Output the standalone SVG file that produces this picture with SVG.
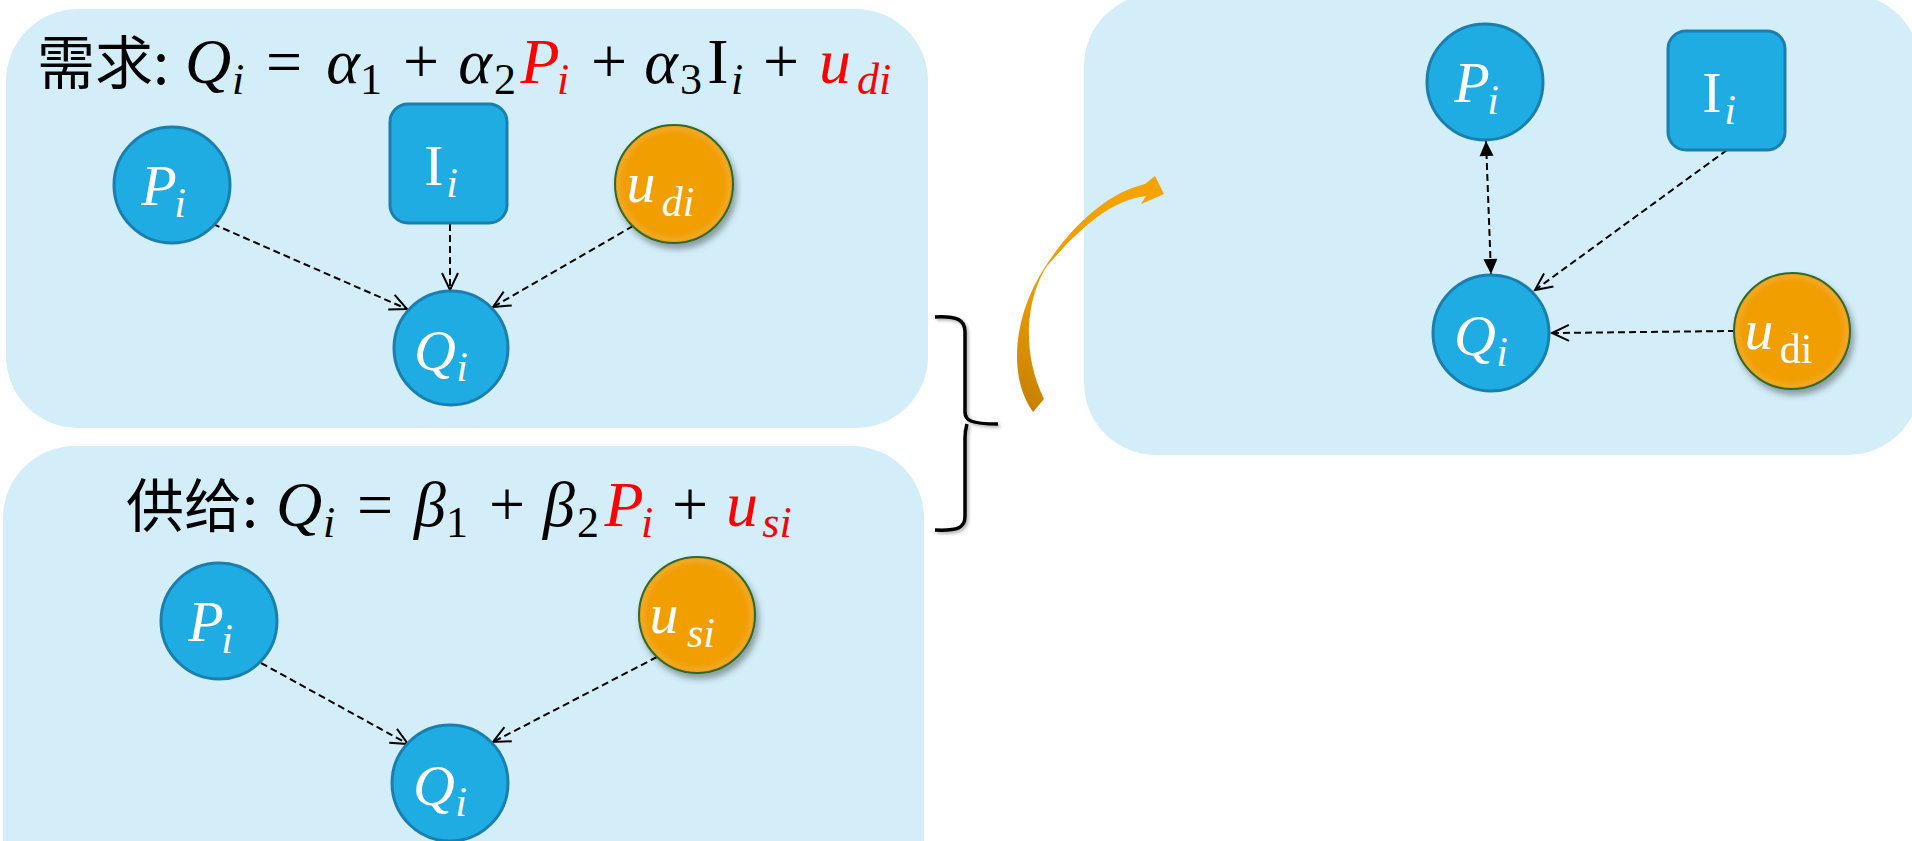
<svg xmlns="http://www.w3.org/2000/svg" width="1912" height="841" viewBox="0 0 1912 841">
<style>
.panel{fill:#D3EEF9}
.blue{fill:#1EACE2;stroke:#1A7FAE;stroke-width:3}
.orange{fill:url(#og);stroke:#2E6A2A;stroke-width:2;filter:url(#sh)}
.lbl{font-family:"Liberation Serif","DejaVu Serif",serif;font-style:italic;fill:#FFFFFF;font-size:58px;text-anchor:middle}
.lsub{font-family:"Liberation Serif","DejaVu Serif",serif;font-style:italic;fill:#FFFFFF;font-size:42px;text-anchor:middle}
.up{font-style:normal}
.m{font-family:"Liberation Serif","DejaVu Serif",serif;font-style:italic;font-size:64px;fill:#000;text-anchor:middle}
.ms{font-family:"Liberation Serif","DejaVu Serif",serif;font-style:italic;font-size:44px;fill:#000;text-anchor:middle}
.op{font-family:"Liberation Serif","DejaVu Serif",serif;font-style:normal;font-size:64px;fill:#000;text-anchor:middle}
.num{font-style:normal}
.red{fill:#FF0000}
.cn{font-family:"Noto Sans CJK SC","Noto Sans",sans-serif;font-size:58px;fill:#000}
.dash{fill:none;stroke:#000;stroke-width:2;stroke-dasharray:7 4}
</style>
<defs>
<marker id="open" markerUnits="userSpaceOnUse" viewBox="-20 -12 24 24" refX="0" refY="0" markerWidth="24" markerHeight="24" orient="auto">
<path d="M-17,-8 L0,0 L-17,8" fill="none" stroke="#000" stroke-width="2"/>
</marker>
<marker id="fillEnd" markerUnits="userSpaceOnUse" viewBox="-16 -9 18 18" refX="0" refY="0" markerWidth="18" markerHeight="18" orient="auto">
<path d="M-15,-7 L0,0 L-15,7 Z" fill="#000"/>
</marker>
<marker id="fillStart" markerUnits="userSpaceOnUse" viewBox="-2 -9 18 18" refX="0" refY="0" markerWidth="18" markerHeight="18" orient="auto">
<path d="M15,-7 L0,0 L15,7 Z" fill="#000"/>
</marker>
<radialGradient id="og" cx="0.5" cy="0.5" r="0.5">
<stop offset="0.85" stop-color="#F09E05"/>
<stop offset="0.95" stop-color="#F3A823"/>
<stop offset="1" stop-color="#EE9A04"/>
</radialGradient>
<linearGradient id="arrowg" x1="0" y1="1" x2="0.3" y2="0">
<stop offset="0" stop-color="#C47E00"/>
<stop offset="0.45" stop-color="#E79A05"/>
<stop offset="1" stop-color="#F5A300"/>
</linearGradient>
<filter id="sh" x="-30%" y="-30%" width="160%" height="160%">
<feDropShadow dx="3" dy="5" stdDeviation="3" flood-color="#000" flood-opacity="0.35"/>
</filter>
<filter id="bsh" x="-30%" y="-10%" width="160%" height="120%">
<feDropShadow dx="2" dy="2" stdDeviation="1.5" flood-color="#000" flood-opacity="0.3"/>
</filter>
</defs>

<g id="panels">
<rect class="panel" x="6" y="9" width="922" height="419" rx="72"/>
<rect class="panel" x="3" y="446" width="921" height="470" rx="72"/>
<rect class="panel" x="1084" y="-6" width="836" height="461" rx="72"/>
</g>

<g id="title-demand">
<text class="cn" x="37" y="84">需求:</text>
<text class="m" x="208" y="83">Q</text><text class="ms" x="238" y="94">i</text>
<text class="op" x="284" y="83">=</text>
<text class="m" x="343" y="83">α</text><text class="ms num" x="371" y="94">1</text>
<text class="op" x="421" y="83">+</text>
<text class="m" x="475" y="83">α</text><text class="ms num" x="505" y="94">2</text>
<text class="m red" x="540" y="83">P</text><text class="ms red" x="563" y="94">i</text>
<text class="op" x="609" y="83">+</text>
<text class="m" x="661" y="83">α</text><text class="ms num" x="691" y="94">3</text>
<text class="op" x="718" y="83">I</text><text class="ms" x="737" y="94">i</text>
<text class="op" x="781" y="83">+</text>
<text class="m red" x="835" y="83">u</text><text class="ms red" x="874" y="94">di</text>
</g>

<g id="title-supply">
<text class="cn" x="126" y="527">供给:</text>
<text class="m" x="299" y="526">Q</text><text class="ms" x="329" y="537">i</text>
<text class="op" x="375" y="526">=</text>
<text class="m" x="430" y="526">β</text><text class="ms num" x="457" y="537">1</text>
<text class="op" x="507" y="526">+</text>
<text class="m" x="559" y="526">β</text><text class="ms num" x="588" y="537">2</text>
<text class="m red" x="624" y="526">P</text><text class="ms red" x="647" y="537">i</text>
<text class="op" x="690" y="526">+</text>
<text class="m red" x="742" y="526">u</text><text class="ms red" x="777" y="537">si</text>
</g>

<g id="connectors">
<line class="dash" x1="213" y1="224" x2="407" y2="309" marker-end="url(#open)"/>
<line class="dash" x1="450" y1="224" x2="450" y2="290" marker-end="url(#open)"/>
<line class="dash" x1="633" y1="226" x2="493" y2="307" marker-end="url(#open)"/>
<line class="dash" x1="261" y1="663" x2="408" y2="744" marker-end="url(#open)"/>
<line class="dash" x1="657" y1="657" x2="493" y2="742" marker-end="url(#open)"/>
<line class="dash" x1="1486" y1="141" x2="1491" y2="274" marker-start="url(#fillStart)" marker-end="url(#fillEnd)"/>
<line class="dash" x1="1727" y1="150" x2="1535" y2="290" marker-end="url(#open)"/>
<line class="dash" x1="1735" y1="331" x2="1552" y2="333" marker-end="url(#open)"/>
</g>

<g id="d-P">
<circle class="blue" cx="172" cy="185" r="58"/>
<text class="lbl" x="159" y="205">P</text><text class="lsub" x="180" y="217">i</text>
</g>
<g id="d-I">
<rect class="blue" x="390" y="104" width="117" height="119" rx="18"/>
<text class="lbl up" x="434" y="185">I</text><text class="lsub" x="452" y="197">i</text>
</g>
<g id="d-u">
<circle class="orange" cx="674" cy="184" r="59"/>
<text class="lbl" x="641" y="202">u</text><text class="lsub" x="678" y="216">di</text>
</g>
<g id="d-Q">
<circle class="blue" cx="451" cy="348" r="57"/>
<text class="lbl" x="435" y="370">Q</text><text class="lsub" x="462" y="381">i</text>
</g>

<g id="s-P">
<circle class="blue" cx="219" cy="621" r="58"/>
<text class="lbl" x="206" y="641">P</text><text class="lsub" x="227" y="653">i</text>
</g>
<g id="s-u">
<circle class="orange" cx="697" cy="615" r="58"/>
<text class="lbl" x="664" y="633">u</text><text class="lsub" x="701" y="647">si</text>
</g>
<g id="s-Q">
<circle class="blue" cx="450" cy="783" r="58"/>
<text class="lbl" x="434" y="805">Q</text><text class="lsub" x="461" y="816">i</text>
</g>

<g id="r-P">
<circle class="blue" cx="1485" cy="82" r="58"/>
<text class="lbl" x="1472" y="102">P</text><text class="lsub" x="1493" y="114">i</text>
</g>
<g id="r-I">
<rect class="blue" x="1668" y="31" width="117" height="119" rx="18"/>
<text class="lbl up" x="1712" y="112">I</text><text class="lsub" x="1730" y="124">i</text>
</g>
<g id="r-Q">
<circle class="blue" cx="1491" cy="333" r="58"/>
<text class="lbl" x="1475" y="355">Q</text><text class="lsub" x="1502" y="366">i</text>
</g>
<g id="r-u">
<circle class="orange" cx="1792" cy="331" r="58"/>
<text class="lbl" x="1759" y="349">u</text><text class="lsub up" x="1796" y="363">di</text>
</g>

<g id="brace">
<path d="M935,317 C958,316 965,320 965,332 L965,412 C965,420 970,424 998,424 M967,424 C966,428 965,430 965,438 L965,516 C965,528 958,531 935,530" fill="none" stroke="#000" stroke-width="3.5" filter="url(#bsh)"/>
</g>

<g id="curved-arrow">
<path d="M1033,412 C1008,378 1012,315 1047,264 C1075,222 1110,192 1145,184 L1155,176 L1164,194 L1141,204 L1146,196 C1110,200 1078,230 1047,266 C1030,292 1018,345 1044,399 Z" fill="url(#arrowg)"/>
</g>
</svg>
